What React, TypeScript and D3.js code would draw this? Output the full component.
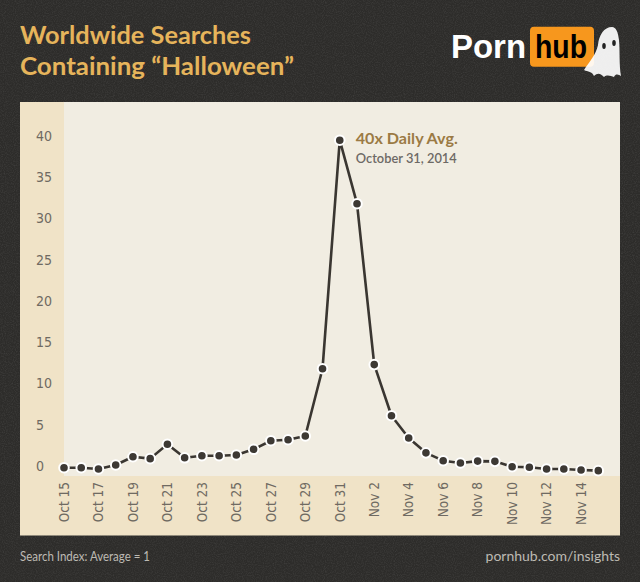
import React from "react";
import * as d3 from "d3";

const dates: string[] = [
  "Oct 15","Oct 16","Oct 17","Oct 18","Oct 19","Oct 20","Oct 21","Oct 22","Oct 23","Oct 24",
  "Oct 25","Oct 26","Oct 27","Oct 28","Oct 29","Oct 30","Oct 31","Nov 1","Nov 2","Nov 3",
  "Nov 4","Nov 5","Nov 6","Nov 7","Nov 8","Nov 9","Nov 10","Nov 11","Nov 12","Nov 13",
  "Nov 14","Nov 15",
];
const searchIndex: number[] = [
  0.4, 0.4, 0.24, 0.73, 1.73, 1.5, 3.24, 1.6, 1.85, 1.85,
  1.94, 2.63, 3.67, 3.79, 4.24, 12.4, 40.1, 32.4, 12.9, 6.7,
  4.0, 2.2, 1.25, 0.97, 1.2, 1.17, 0.52, 0.45, 0.24, 0.24,
  0.12, 0.04,
];
const yTicks: number[] = [0, 5, 10, 15, 20, 25, 30, 35, 40];
const xTickLabels: string[] = dates.filter((_, i) => i % 2 === 0);

const titleLines: string[] = ["Worldwide Searches", "Containing \u201cHalloween\u201d"];
const annotationTitle = "40x Daily Avg.";
const annotationSub = "October 31, 2014";
const footerLeft = "Search Index: Average = 1";
const footerRight = "pornhub.com/insights";

const W = 640;
const H = 582;
const panel = { x0: 20, x1: 620, y0: 102, y1: 535.5 };
const plot = { x0: 64, x1: 620, y0: 102, y1: 476 };

export default function App() {
  const x = d3.scalePoint<string>().domain(dates).range([64, 598.3]);
  const y = d3.scaleLinear().domain([0, 40]).range([471, 141]);

  const line = d3
    .line<number>()
    .x((_, i) => x(dates[i]) as number)
    .y((d) => y(d))
    .curve(d3.curveLinear);

  const peakIdx = searchIndex.indexOf(d3.max(searchIndex) as number);
  const peakX = x(dates[peakIdx]) as number;
  const peakY = y(searchIndex[peakIdx]);

  const axisFont = "'Liberation Sans Narrow', 'DejaVu Sans Condensed', 'Roboto Condensed', sans-serif";

  return (
    <svg
      width={W}
      height={H}
      style={{ position: "absolute", left: 0, top: 0, display: "block" }}
      xmlns="http://www.w3.org/2000/svg"
    >
      <defs>
        <filter id="noise" x="0" y="0" width="100%" height="100%">
          <feTurbulence type="fractalNoise" baseFrequency="0.9" numOctaves="2" seed="3" result="t" />
          <feColorMatrix
            in="t"
            type="matrix"
            values="0 0 0 0 0.5  0 0 0 0 0.5  0 0 0 0 0.5  0 0 0 0.9 -0.35"
          />
        </filter>
      </defs>
      <rect x={0} y={0} width={W} height={H} fill="#2d2c2a" />
      <rect x={0} y={0} width={W} height={H} filter="url(#noise)" opacity={0.25} />

      {/* Title */}
      <g fill="#e6b45b" fontFamily="Lato, 'Open Sans', sans-serif" fontWeight={700} fontSize={24}>
        <text x={20} y={44} textLength={231} lengthAdjust="spacingAndGlyphs">{titleLines[0]}</text>
        <text x={20} y={75} textLength={274} lengthAdjust="spacingAndGlyphs">{titleLines[1]}</text>
      </g>

      {/* Logo */}
      <g>
        <text x={451} y={57.7} fill="#ffffff" fontFamily="'Liberation Sans', Arial, sans-serif" fontWeight={700} fontSize={33} textLength={75} lengthAdjust="spacingAndGlyphs">Porn</text>
        <rect x={530} y={26.7} width={64} height={40} rx={4} fill="#f7971d" />
        <text x={535} y={57.7} fill="#000000" fontFamily="'Liberation Sans', Arial, sans-serif" fontWeight={700} fontSize={33} textLength={52} lengthAdjust="spacingAndGlyphs">hub</text>
        <path
          d="M612,27 C604,27 599,35 598,45 C596,55 589,62 584,70 C588,72 592,71 594,76 C598,72 601,74 604,77 C607,74 611,76 614,77 C616,73 619,75 621,76 C619,65 620,50 619,40 C618,32 616,27 612,27 Z"
          fill="#ffffff"
          opacity={0.92}
        />
        <ellipse cx={604} cy={46} rx={1.8} ry={3} fill="#222" />
        <ellipse cx={614} cy={43} rx={1.8} ry={3} fill="#222" />
      </g>

      {/* Panel */}
      <rect x={panel.x0} y={panel.y0} width={panel.x1 - panel.x0} height={panel.y1 - panel.y0} fill="#f0e3c7" />
      <rect x={plot.x0} y={plot.y0} width={plot.x1 - plot.x0} height={plot.y1 - plot.y0} fill="#f1ede2" />

      {/* Y axis labels */}
      <g fontFamily={axisFont} fontSize={14} fill="#6f6a62">
        {yTicks.map((t) => (
          <text key={t} x={36} y={y(t) - 5} dy="0.35em" textAnchor="start">{t}</text>
        ))}
      </g>

      {/* X axis labels */}
      <g fontFamily={axisFont} fontSize={13.5} fill="#6f6a62">
        {xTickLabels.map((d) => (
          <text
            key={d}
            transform={`translate(${x(d)},482) rotate(-90)`}
            textAnchor="end"
            dy="0.35em"
          >
            {d}
          </text>
        ))}
      </g>

      {/* Line */}
      <path d={line(searchIndex) || ""} fill="none" stroke="#3a3631" strokeWidth={2.6} strokeLinejoin="round" />
      <g>
        {searchIndex.map((v, i) => (
          <circle key={i} cx={x(dates[i])} cy={y(v)} r={4.8} fill="#3d3934" stroke="#ffffff" strokeWidth={2} />
        ))}
      </g>

      {/* Annotation */}
      <text x={peakX + 16} y={peakY + 4} fill="#9b7a44" fontFamily="Lato, 'Open Sans', sans-serif" fontWeight={700} fontSize={16} textLength={102} lengthAdjust="spacingAndGlyphs">{annotationTitle}</text>
      <text x={peakX + 16} y={peakY + 23} fill="#6d6965" fontFamily="Lato, 'Open Sans', sans-serif" fontWeight={600} fontSize={14} textLength={101} lengthAdjust="spacingAndGlyphs">{annotationSub}</text>

      {/* Footer */}
      <g fill="#bdbab3" fontFamily="Lato, 'Open Sans', sans-serif" fontSize={14}>
        <text x={20} y={560.7} textLength={130} lengthAdjust="spacingAndGlyphs">{footerLeft}</text>
        <text x={620} y={560.5} textAnchor="end">{footerRight}</text>
      </g>
    </svg>
  );
}
